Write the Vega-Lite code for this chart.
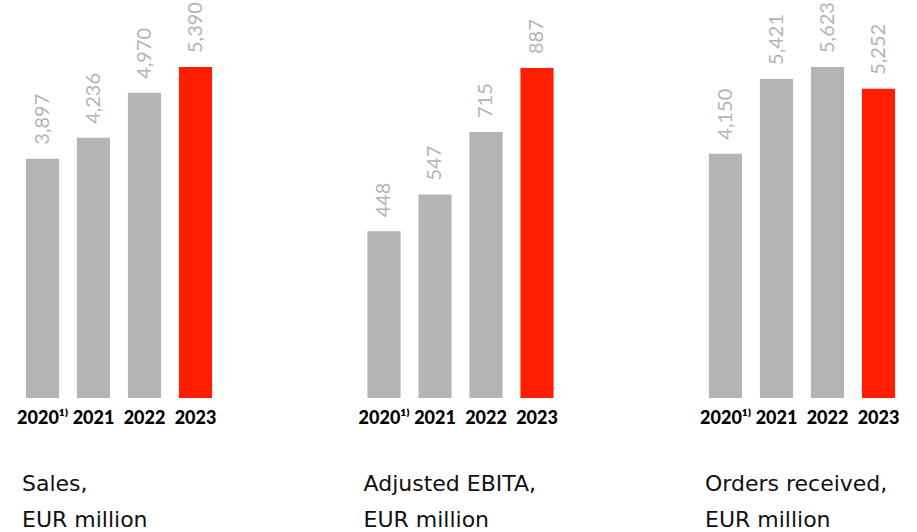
{
  "$schema": "https://vega.github.io/schema/vega-lite/v6.json",
  "padding": {"left": 16, "top": 0, "right": 5, "bottom": 0},
  "background": "white",
  "spacing": 136.5,
  "config": {
    "view": {"stroke": null},
    "font": "Lato",
    "axisX": {"domain": false, "ticks": false, "labelAngle": 0, "labelFontSize": 18, "labelFontWeight": 900, "labelColor": "#000000", "labelPadding": 11, "title": null, "labelFont": "Lato"},
    "axisY": {"disable": true},
    "title": {"orient": "bottom", "anchor": "start", "frame": "group", "fontSize": 22, "fontWeight": "normal", "lineHeight": 36, "color": "#111111", "offset": 47, "dx": 5, "font": "DejaVu Sans"}
  },
  "datasets": {
    "kpi": [
      {"metric": "Sales", "year": "2020¹⁾", "value": 3897, "label": "3,897", "highlight": "no"},
      {"metric": "Sales", "year": "2021", "value": 4236, "label": "4,236", "highlight": "no"},
      {"metric": "Sales", "year": "2022", "value": 4970, "label": "4,970", "highlight": "no"},
      {"metric": "Sales", "year": "2023", "value": 5390, "label": "5,390", "highlight": "yes"},
      {"metric": "EBITA", "year": "2020¹⁾", "value": 448, "label": "448", "highlight": "no"},
      {"metric": "EBITA", "year": "2021", "value": 547, "label": "547", "highlight": "no"},
      {"metric": "EBITA", "year": "2022", "value": 715, "label": "715", "highlight": "no"},
      {"metric": "EBITA", "year": "2023", "value": 887, "label": "887", "highlight": "yes"},
      {"metric": "Orders", "year": "2020¹⁾", "value": 4150, "label": "4,150", "highlight": "no"},
      {"metric": "Orders", "year": "2021", "value": 5421, "label": "5,421", "highlight": "no"},
      {"metric": "Orders", "year": "2022", "value": 5623, "label": "5,623", "highlight": "no"},
      {"metric": "Orders", "year": "2023", "value": 5252, "label": "5,252", "highlight": "yes"}
    ]
  },
  "hconcat": [
    {
      "width": 204, "height": 398,
      "data": {"name": "kpi"},
      "transform": [{"filter": "datum.metric === 'Sales'"}],
      "title": {"text": ["Sales,", "EUR million"]},
      "encoding": {
        "x": {"field": "year", "type": "nominal", "sort": null, "scale": {"paddingInner": 0.35, "paddingOuter": 0.175}},
        "y": {"field": "value", "type": "quantitative", "scale": {"domain": [0, 6481], "nice": false, "zero": true}}
      },
      "layer": [
        {"mark": {"type": "bar"}, "encoding": {"color": {"field": "highlight", "type": "nominal", "scale": {"domain": ["no", "yes"], "range": ["#b4b4b4", "#ff1f00"]}, "legend": null}}},
        {"mark": {"type": "text", "angle": 270, "align": "left", "baseline": "middle", "dx": 14, "fontSize": 20, "color": "#b4b4b4", "font": "Lato"}, "encoding": {"text": {"field": "label"}}}
      ]
    },
    {
      "width": 204, "height": 398,
      "data": {"name": "kpi"},
      "transform": [{"filter": "datum.metric === 'EBITA'"}],
      "title": {"text": ["Adjusted EBITA,", "EUR million"]},
      "encoding": {
        "x": {"field": "year", "type": "nominal", "sort": null, "scale": {"paddingInner": 0.35, "paddingOuter": 0.175}},
        "y": {"field": "value", "type": "quantitative", "scale": {"domain": [0, 1070], "nice": false, "zero": true}}
      },
      "layer": [
        {"mark": {"type": "bar"}, "encoding": {"color": {"field": "highlight", "type": "nominal", "scale": {"domain": ["no", "yes"], "range": ["#b4b4b4", "#ff1f00"]}, "legend": null}}},
        {"mark": {"type": "text", "angle": 270, "align": "left", "baseline": "middle", "dx": 14, "fontSize": 20, "color": "#b4b4b4", "font": "Lato"}, "encoding": {"text": {"field": "label"}}}
      ]
    },
    {
      "width": 204, "height": 398,
      "data": {"name": "kpi"},
      "transform": [{"filter": "datum.metric === 'Orders'"}],
      "title": {"text": ["Orders received,", "EUR million"]},
      "encoding": {
        "x": {"field": "year", "type": "nominal", "sort": null, "scale": {"paddingInner": 0.35, "paddingOuter": 0.175}},
        "y": {"field": "value", "type": "quantitative", "scale": {"domain": [0, 6761], "nice": false, "zero": true}}
      },
      "layer": [
        {"mark": {"type": "bar"}, "encoding": {"color": {"field": "highlight", "type": "nominal", "scale": {"domain": ["no", "yes"], "range": ["#b4b4b4", "#ff1f00"]}, "legend": null}}},
        {"mark": {"type": "text", "angle": 270, "align": "left", "baseline": "middle", "dx": 14, "fontSize": 20, "color": "#b4b4b4", "font": "Lato"}, "encoding": {"text": {"field": "label"}}}
      ]
    }
  ],
  "resolve": {"scale": {"color": "shared"}}
}
